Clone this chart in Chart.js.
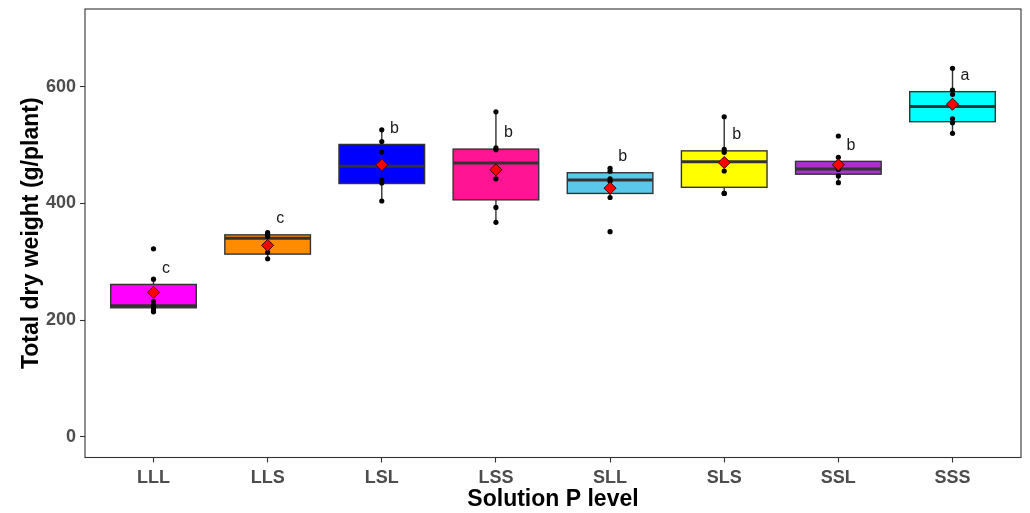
<!DOCTYPE html>
<html>
<head>
<meta charset="utf-8">
<script src="https://cdn.jsdelivr.net/npm/chart.js@4/dist/chart.umd.min.js"></script>
<style>
  html, body { margin: 0; padding: 0; background: #ffffff; }
  #wrap { width: 1030px; height: 513px; }
</style>
</head>
<body>
<div id="wrap"><canvas id="chart" width="1030" height="513"></canvas></div>
<script>
// Treatments (solution P level sequence)
const categories = ['LLL', 'LLS', 'LSL', 'LSS', 'SLL', 'SLS', 'SSL', 'SSS'];

// Box-and-whisker summaries, total dry weight (g/plant)
const whiskerLow  = [214, 305, 404, 367.5, 410, 417, 435.5, 520];
const q1          = [221, 313, 434, 406, 417, 427.5, 450, 540];
const medians     = [224.5, 340, 463.5, 469, 440, 471.5, 459, 566];
const q3          = [261, 346, 501, 493, 452.5, 490, 472, 591.5];
const whiskerHigh = [270, 350, 526, 557, 460, 548.5, 479, 631.5];
const means       = [247.5, 328, 466, 457.5, 426, 470, 466, 570];

// Individual plants per treatment
const obsLLL = [322, 270, 232, 226, 221, 217, 214];
const obsLLS = [350, 347, 343, 316, 305];
const obsLSL = [526, 506, 488, 440, 435, 404];
const obsLSS = [557, 495, 492, 442, 393, 367.5];
const obsSLL = [460, 455, 442, 438, 410, 351.5];
const obsSLS = [548.5, 492.5, 487.5, 455.5, 417, 417];
const obsSSL = [515.5, 479, 460, 458, 447, 435.5];
const obsSSS = [631.5, 594, 587, 545, 538, 520];
const observations = [obsLLL, obsLLS, obsLSL, obsLSS, obsSLL, obsSLS, obsSSL, obsSSS];

// Mean-separation letters
const letters = ['c', 'c', 'b', 'b', 'b', 'b', 'b', 'a'];

// Axis ticks
const yTicks = [0, 200, 400, 600];

// Fill colours per treatment
const boxColors = ['#FF00FF', '#FF8C00', '#0000FF', '#FF1493', '#5AC8EA', '#FFFF00', '#A833CC', '#00FFFF'];

const FONT = '"Liberation Sans", Arial, Helvetica, sans-serif';
const INK = '#333333';
const BOX_HALF = 0.375;     // half box width in category units
const LETTER_DX = 0.11;     // letter offset to the right of the box centre
const LETTER_DY = 20;       // letter baseline above the upper hinge (data units)

const pointData = [];
observations.forEach((vals, i) => vals.forEach(v => pointData.push({ x: i + 1, y: v })));
const meanData = means.map((m, i) => ({ x: i + 1, y: m }));

const boxPlugin = {
  id: 'boxWhisker',
  beforeDatasetsDraw(chart) {
    const { ctx, scales: { x, y } } = chart;
    ctx.save();
    ctx.strokeStyle = INK;
    categories.forEach((c, i) => {
      const cx = x.getPixelForValue(i + 1);
      const left = x.getPixelForValue(i + 1 - BOX_HALF);
      const right = x.getPixelForValue(i + 1 + BOX_HALF);
      const top = y.getPixelForValue(q3[i]);
      const bot = y.getPixelForValue(q1[i]);
      // whiskers
      ctx.lineWidth = 1.4;
      ctx.beginPath();
      ctx.moveTo(cx, top); ctx.lineTo(cx, y.getPixelForValue(whiskerHigh[i]));
      ctx.moveTo(cx, bot); ctx.lineTo(cx, y.getPixelForValue(whiskerLow[i]));
      ctx.stroke();
      // hinge box
      ctx.fillStyle = boxColors[i];
      ctx.fillRect(left, top, right - left, bot - top);
      ctx.strokeRect(left, top, right - left, bot - top);
      // median bar
      const my = y.getPixelForValue(medians[i]);
      ctx.lineWidth = 3;
      ctx.beginPath();
      ctx.moveTo(left, my); ctx.lineTo(right, my);
      ctx.stroke();
    });
    ctx.restore();
  },
  afterDatasetsDraw(chart) {
    const { ctx, scales: { x, y } } = chart;
    ctx.save();
    ctx.fillStyle = '#1a1a1a';
    ctx.font = '16px ' + FONT;
    ctx.textAlign = 'center';
    ctx.textBaseline = 'alphabetic';
    letters.forEach((t, i) => {
      ctx.fillText(t, x.getPixelForValue(i + 1 + LETTER_DX), y.getPixelForValue(q3[i] + LETTER_DY));
    });
    ctx.restore();
  },
  afterDraw(chart) {
    const { ctx, chartArea: a } = chart;
    ctx.save();
    ctx.strokeStyle = INK;
    ctx.lineWidth = 1.1;
    ctx.strokeRect(a.left, a.top, a.right - a.left, a.bottom - a.top);
    ctx.restore();
  }
};

new Chart(document.getElementById('chart'), {
  type: 'scatter',
  data: {
    datasets: [
      {
        label: 'plants',
        data: pointData,
        pointRadius: 2.6,
        pointBackgroundColor: '#000000',
        pointBorderWidth: 0,
        order: 2
      },
      {
        label: 'mean',
        data: meanData,
        pointStyle: 'rectRot',
        pointRadius: 6,
        pointBackgroundColor: '#FF0000',
        pointBorderColor: '#3a0000',
        pointBorderWidth: 1,
        order: 1
      }
    ]
  },
  options: {
    responsive: false,
    animation: false,
    devicePixelRatio: 1,
    layout: { padding: { left: 0, right: 9, top: 9, bottom: 0 } },
    plugins: { legend: { display: false }, tooltip: { enabled: false } },
    scales: {
      x: {
        type: 'linear',
        min: 0.4,
        max: 8.6,
        afterBuildTicks(scale) { scale.ticks = categories.map((c, i) => ({ value: i + 1 })); },
        afterFit(scale) {
          scale.height = 55.5;
          scale.paddingLeft = 0;
          scale.paddingRight = 0;
        },
        ticks: {
          callback: (v) => categories[v - 1],
          color: '#4D4D4D',
          font: { family: FONT, size: 18, weight: 'bold' },
          padding: 5,
          maxRotation: 0
        },
        grid: { display: true, drawOnChartArea: false, drawTicks: true, tickLength: 5, tickColor: INK, tickWidth: 1.1 },
        border: { display: false },
        title: {
          display: true,
          text: 'Solution P level',
          color: '#000000',
          font: { family: FONT, size: 23, weight: 'bold' },
          padding: { top: 0, bottom: 0 }
        }
      },
      y: {
        type: 'linear',
        min: -35.7,
        max: 733.2,
        afterBuildTicks(scale) { scale.ticks = yTicks.map(v => ({ value: v })); },
        afterFit(scale) {
          scale.width = 85;
          scale.paddingTop = 0;
          scale.paddingBottom = 0;
        },
        ticks: {
          color: '#4D4D4D',
          font: { family: FONT, size: 18, weight: 'bold' },
          padding: 4
        },
        grid: { display: true, drawOnChartArea: false, drawTicks: true, tickLength: 5, tickColor: INK, tickWidth: 1.1 },
        border: { display: false },
        title: {
          display: true,
          text: 'Total dry weight (g/plant)',
          color: '#000000',
          font: { family: FONT, size: 23, weight: 'bold' },
          padding: { top: 18, bottom: 0 }
        }
      }
    }
  },
  plugins: [boxPlugin]
});
</script>
</body>
</html>
